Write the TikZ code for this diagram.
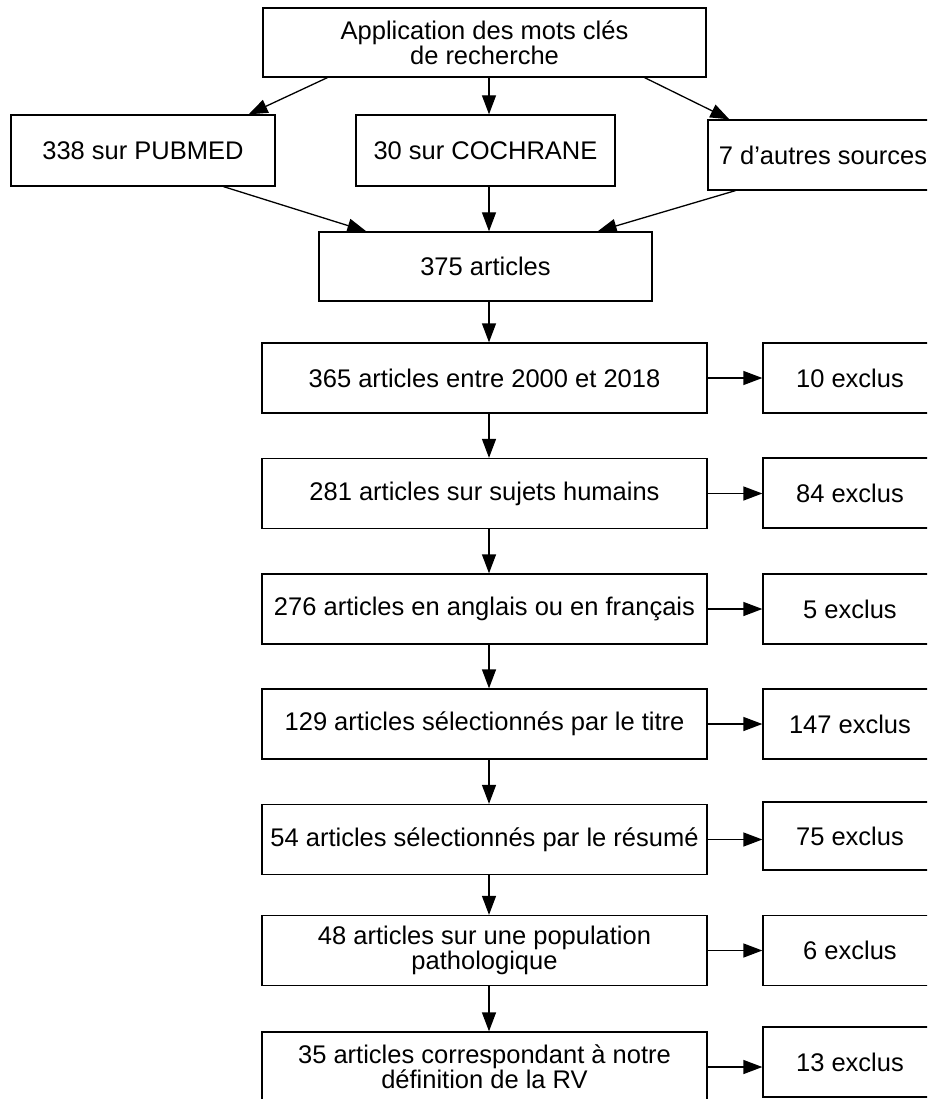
\documentclass[tikz,border=0pt]{standalone}
\usepackage{fontspec}
\setmainfont{Liberation Sans}
\usetikzlibrary{arrows.meta}
\begin{document}
\begin{tikzpicture}[x=1pt,y=-1pt]
  \tikzset{box/.style={shape=rectangle,draw,line width=1.3pt,text centered,align=center,inner sep=0pt,
      font=\fontsize{25.5}{25}\selectfont},
    col/.style={box,minimum width=445pt,minimum height=70pt},
    excl/.style={box,minimum width=174pt,minimum height=70pt},
    arr/.style={line width=1.3pt,arrows={-{Triangle[length=19pt,width=14pt]}}}};
  \useasboundingbox (0,0) rectangle (927,1099);
  \clip (0,0) rectangle (927,1099);
  % sources
  \node[box,minimum width=443pt,minimum height=69pt] (A) at (484.5,42.5) {Application des mots clés\\de recherche};
  \node[box,minimum width=264pt,minimum height=71pt] (PM) at (143,150.5) {338 sur PUBMED};
  \node[box,minimum width=259pt,minimum height=71pt] (CO) at (485.5,150.5) {30 sur COCHRANE};
  \node[box,minimum width=230pt,minimum height=70pt] (AS) at (823,155) {7 d{\char"27}autres sources};
  \node[box,minimum width=333pt,minimum height=69pt] (N) at (485.5,266.5) {375 articles};
  % selection
  \node[col] (Y) at (484.5,378) {365 articles entre 2000 et 2018};
  \node[col] (H) at (484.5,493.5) {281 articles sur sujets humains};
  \node[col] (L) at (484.5,609) {276 articles en anglais ou en français};
  \node[col] (T) at (484.5,724) {129 articles sélectionnés par le titre};
  \node[col] (R) at (484.5,839.5) {54 articles sélectionnés par le résumé};
  \node[col] (P) at (484.5,950.5) {48 articles sur une population\\pathologique};
  \node[col] (D) at (484.5,1067) {35 articles correspondant à notre\\définition de la RV};
  % exclusions
  \node[excl] (Yx) at (850,378) {10 exclus};
  \node[excl] (Hx) at (850,493) {84 exclus};
  \node[excl] (Lx) at (850,609) {5 exclus};
  \node[excl] (Tx) at (850,724) {147 exclus};
  \node[excl,minimum height=68pt] (Rx) at (850,836) {75 exclus};
  \node[excl] (Px) at (850,950.5) {6 exclus};
  \node[excl] (Dx) at (850,1062) {13 exclus};
  \draw[arr] ([xshift=65pt]A.south west) -- ([xshift=-27pt]PM.north east);
  \draw[arr] ([xshift=4.5pt]A.south) -- ([xshift=3.5pt]CO.north);
  \draw[arr] ([xshift=-62pt]A.south east) -- ([xshift=22pt]AS.north west);
  \draw[arr] ([xshift=-52pt]PM.south east) -- ([xshift=48pt]N.north west);
  \draw[arr] ([xshift=3.5pt]CO.south) -- ([xshift=3.5pt]N.north);
  \draw[arr] ([xshift=28pt]AS.south west) -- ([xshift=-55pt]N.north east);
  \draw[arr] ([xshift=3.5pt]N.south) -- ([xshift=4.5pt]Y.north);
  \foreach \a/\b in {Y/H,H/L,L/T,T/R,R/P,P/D}
    \draw[arr] ([xshift=4.5pt]\a.south) -- ([xshift=4.5pt]\b.north);
  \foreach \a in {Y,H,L,T,R,P,D}
    \draw[arr] (\a.east) -- (\a.east -| \a x.west);
\end{tikzpicture}
\end{document}
